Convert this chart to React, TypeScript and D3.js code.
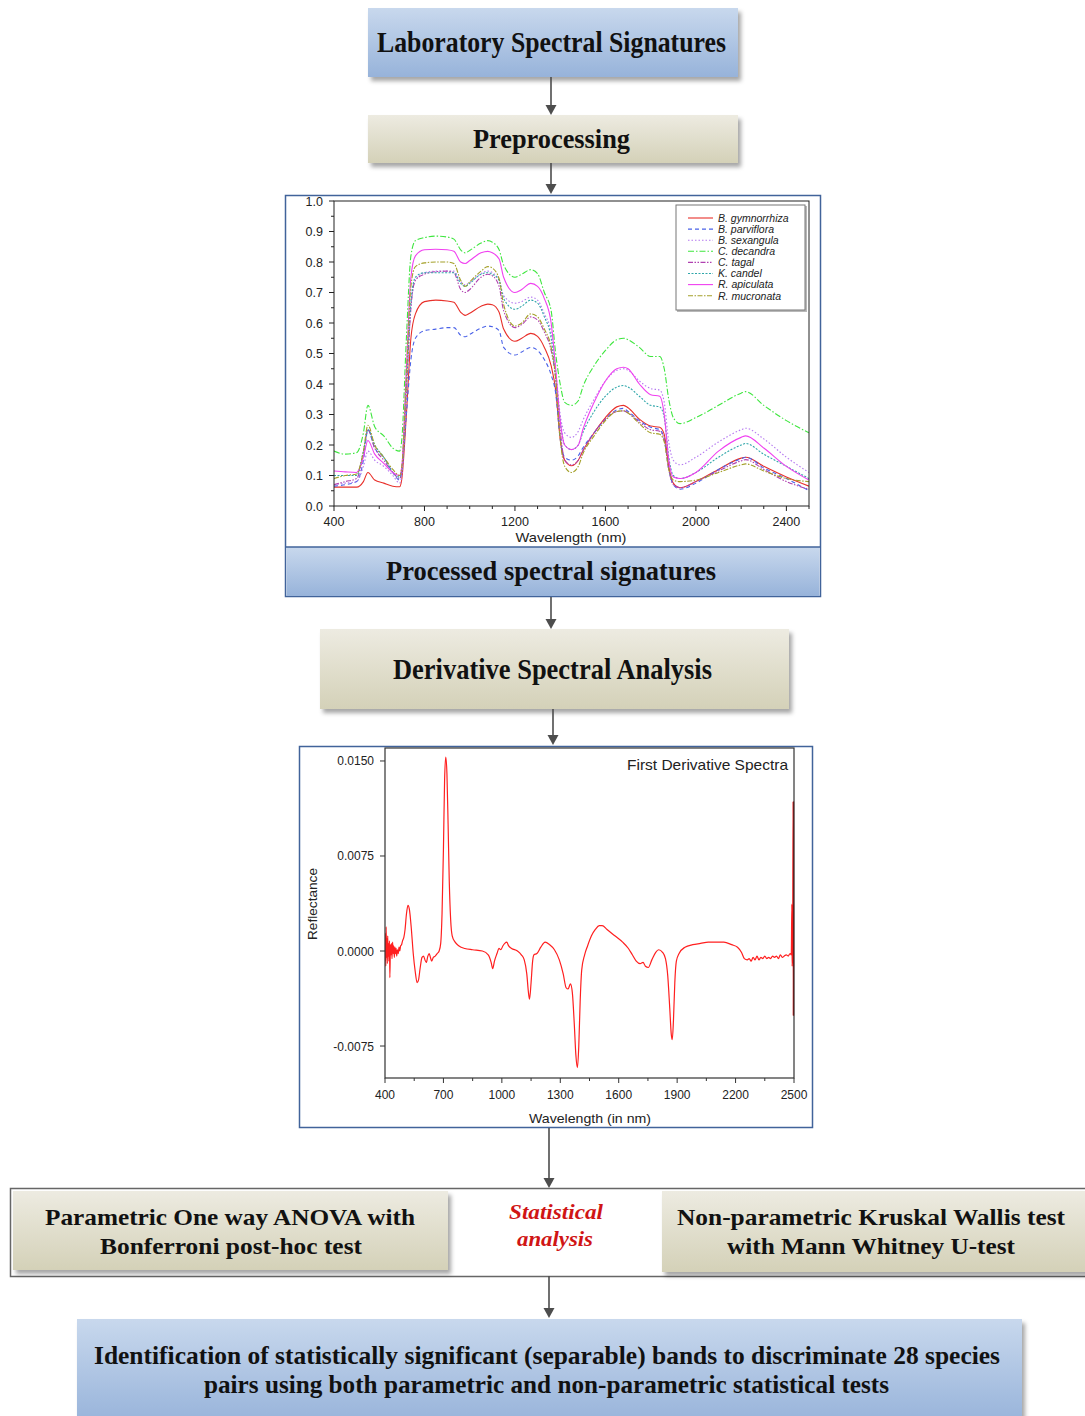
import React from "react";
import * as d3 from "d3";

// ---------- Processed spectral signatures (reflectance) ----------
const WAVELENGTHS = [400, 450, 500, 530, 550, 580, 620, 660, 690, 700, 720, 740, 760, 800, 850, 900, 930, 960, 980, 1000, 1050, 1080, 1100, 1130, 1150, 1200, 1230, 1270, 1300, 1330, 1360, 1380, 1400, 1420, 1450, 1480, 1500, 1550, 1600, 1650, 1680, 1700, 1750, 1800, 1840, 1860, 1880, 1900, 1930, 2000, 2100, 2200, 2220, 2300, 2400, 2500];

const SPECIES = ["B. gymnorrhiza", "B. parviflora", "B. sexangula", "C. decandra", "C. tagal", "K. candel", "R. apiculata", "R. mucronata"];

const GYMNORRHIZA = [0.062, 0.062, 0.062, 0.08, 0.11, 0.085, 0.075, 0.065, 0.063, 0.09, 0.30, 0.55, 0.63, 0.67, 0.675, 0.672, 0.668, 0.635, 0.625, 0.632, 0.655, 0.662, 0.66, 0.635, 0.58, 0.54, 0.55, 0.566, 0.556, 0.52, 0.46, 0.38, 0.22, 0.15, 0.132, 0.15, 0.18, 0.24, 0.29, 0.325, 0.33, 0.322, 0.285, 0.262, 0.258, 0.235, 0.13, 0.075, 0.06, 0.08, 0.12, 0.157, 0.16, 0.13, 0.095, 0.065];
const PARVIFLORA = [0.065, 0.07, 0.08, 0.15, 0.25, 0.19, 0.16, 0.11, 0.085, 0.12, 0.30, 0.48, 0.55, 0.575, 0.58, 0.585, 0.585, 0.56, 0.555, 0.563, 0.583, 0.59, 0.588, 0.575, 0.52, 0.495, 0.505, 0.52, 0.51, 0.48, 0.43, 0.37, 0.22, 0.16, 0.15, 0.165, 0.19, 0.24, 0.285, 0.315, 0.32, 0.31, 0.28, 0.258, 0.25, 0.22, 0.12, 0.07, 0.055, 0.075, 0.12, 0.155, 0.16, 0.125, 0.09, 0.05];
const SEXANGULA = [0.07, 0.075, 0.08, 0.13, 0.18, 0.15, 0.13, 0.10, 0.075, 0.10, 0.35, 0.65, 0.74, 0.765, 0.77, 0.77, 0.77, 0.735, 0.725, 0.733, 0.762, 0.77, 0.765, 0.74, 0.69, 0.665, 0.67, 0.685, 0.675, 0.63, 0.57, 0.45, 0.30, 0.24, 0.225, 0.245, 0.28, 0.35, 0.41, 0.445, 0.45, 0.445, 0.41, 0.385, 0.38, 0.34, 0.21, 0.15, 0.135, 0.16, 0.21, 0.25, 0.255, 0.22, 0.16, 0.11];
const DECANDRA = [0.18, 0.17, 0.175, 0.24, 0.33, 0.26, 0.23, 0.19, 0.18, 0.22, 0.55, 0.82, 0.87, 0.88, 0.885, 0.882, 0.875, 0.84, 0.83, 0.838, 0.862, 0.87, 0.865, 0.84, 0.79, 0.75, 0.76, 0.775, 0.762, 0.70, 0.64, 0.50, 0.40, 0.34, 0.33, 0.345, 0.39, 0.46, 0.51, 0.545, 0.55, 0.545, 0.52, 0.49, 0.49, 0.45, 0.35, 0.29, 0.27, 0.29, 0.33, 0.37, 0.375, 0.33, 0.28, 0.24];
const TAGAL = [0.07, 0.08, 0.09, 0.17, 0.25, 0.19, 0.15, 0.11, 0.09, 0.12, 0.38, 0.65, 0.74, 0.76, 0.768, 0.77, 0.765, 0.71, 0.70, 0.71, 0.75, 0.76, 0.755, 0.72, 0.64, 0.585, 0.595, 0.62, 0.61, 0.57, 0.51, 0.42, 0.25, 0.15, 0.135, 0.15, 0.18, 0.24, 0.285, 0.31, 0.312, 0.305, 0.275, 0.25, 0.245, 0.22, 0.12, 0.07, 0.06, 0.08, 0.115, 0.148, 0.152, 0.12, 0.08, 0.055];
const CANDEL = [0.10, 0.10, 0.10, 0.18, 0.25, 0.20, 0.16, 0.11, 0.095, 0.12, 0.40, 0.67, 0.75, 0.765, 0.765, 0.765, 0.765, 0.73, 0.72, 0.73, 0.76, 0.765, 0.76, 0.74, 0.68, 0.645, 0.655, 0.675, 0.665, 0.62, 0.55, 0.42, 0.28, 0.20, 0.185, 0.20, 0.24, 0.31, 0.36, 0.39, 0.395, 0.39, 0.36, 0.33, 0.325, 0.29, 0.16, 0.10, 0.09, 0.11, 0.16, 0.20, 0.205, 0.17, 0.13, 0.09];
const APICULATA = [0.115, 0.112, 0.11, 0.16, 0.215, 0.17, 0.14, 0.11, 0.10, 0.13, 0.45, 0.75, 0.82, 0.84, 0.842, 0.84, 0.835, 0.80, 0.795, 0.805, 0.83, 0.835, 0.83, 0.81, 0.75, 0.70, 0.71, 0.73, 0.72, 0.68, 0.60, 0.45, 0.28, 0.20, 0.185, 0.20, 0.25, 0.34, 0.41, 0.45, 0.455, 0.45, 0.40, 0.365, 0.36, 0.30, 0.15, 0.095, 0.09, 0.11, 0.18, 0.225, 0.23, 0.19, 0.13, 0.085];
const MUCRONATA = [0.09, 0.10, 0.105, 0.18, 0.265, 0.20, 0.16, 0.12, 0.10, 0.13, 0.42, 0.72, 0.785, 0.797, 0.80, 0.80, 0.795, 0.74, 0.72, 0.735, 0.77, 0.785, 0.78, 0.745, 0.66, 0.59, 0.60, 0.63, 0.62, 0.58, 0.52, 0.42, 0.22, 0.13, 0.11, 0.13, 0.17, 0.23, 0.28, 0.31, 0.312, 0.305, 0.27, 0.24, 0.235, 0.21, 0.12, 0.085, 0.08, 0.085, 0.11, 0.135, 0.138, 0.115, 0.09, 0.08];

const SPEC_X_TICKS = [400, 800, 1200, 1600, 2000, 2400];
const SPEC_Y_TICKS = [0, 0.1, 0.2, 0.3, 0.4, 0.5, 0.6, 0.7, 0.8, 0.9, 1.0];

// ---------- First derivative spectrum ----------
const DERIV_WL = [400, 402, 404, 406, 408, 410, 412, 414, 416, 418, 420, 423, 425, 428, 430, 433, 436, 439, 442, 445, 448, 451, 454, 457, 460, 464, 468, 472, 476, 480, 485, 490, 497, 503, 510, 518, 525, 535, 545, 555, 565, 572, 580, 590, 598, 605, 612, 620, 627, 633, 640, 648, 658, 668, 678, 686, 693, 700, 706, 712, 718, 724, 730, 737, 745, 760, 780, 810, 850, 900, 930, 945, 953, 962, 975, 985, 995, 1005, 1015, 1025, 1035, 1050, 1080, 1100, 1115, 1128, 1136, 1142, 1150, 1158, 1165, 1180, 1200, 1222, 1245, 1270, 1295, 1315, 1330, 1340, 1352, 1362, 1372, 1380, 1388, 1395, 1402, 1410, 1425, 1440, 1460, 1480, 1500, 1515, 1540, 1580, 1620, 1650, 1670, 1690, 1710, 1725, 1737, 1752, 1770, 1790, 1805, 1825, 1840, 1852, 1862, 1870, 1875, 1881, 1888, 1896, 1910, 1940, 1980, 2020, 2060, 2100, 2140, 2180, 2210, 2230, 2245, 2260, 2270, 2280, 2290, 2300, 2310, 2320, 2330, 2340, 2350, 2360, 2370, 2380, 2390, 2400, 2410, 2420, 2430, 2440, 2450, 2460, 2470, 2480, 2486, 2489, 2490, 2493, 2496, 2497, 2498, 2499, 2500];
const DERIV_VAL = [-0.0008, 0.0014, -0.0012, 0.0019, -0.0005, 0.0010, -0.0010, 0.0012, -0.0004, 0.0006, -0.0008, 0.0008, -0.0021, 0.0005, -0.0003, 0.0006, -0.0006, 0.0007, -0.0002, 0.0004, -0.0005, 0.0003, -0.0002, 0.0002, -0.0004, 0.0001, -0.0002, 0.0003, 0.0000, 0.0004, 0.0005, 0.0008, 0.0011, 0.0017, 0.0029, 0.0036, 0.0033, 0.0018, -0.0002, -0.0016, -0.0025, -0.0023, -0.0014, -0.0005, -0.0004, -0.0007, -0.0009, -0.0004, -0.0002, -0.0005, -0.0008, -0.0005, -0.0004, -0.0002, 0.0000, 0.0006, 0.0030, 0.0080, 0.0135, 0.0153, 0.0140, 0.0100, 0.0055, 0.0025, 0.0012, 0.0007, 0.0004, 0.0002, 0.0001, 0.0000, -0.0003, -0.0009, -0.0014, -0.0008, -0.0002, 0.0002, 0.0001, 0.0004, 0.0006, 0.0007, 0.0004, 0.0002, 0.0000, -0.0003, -0.0007, -0.0018, -0.0032, -0.0038, -0.0025, -0.0008, -0.0003, -0.0002, 0.0003, 0.0007, 0.0005, 0.0001, -0.0007, -0.0018, -0.0029, -0.0030, -0.0026, -0.0033, -0.0058, -0.0082, -0.0092, -0.0075, -0.0040, -0.0015, -0.0003, 0.0004, 0.0012, 0.0017, 0.0020, 0.0020, 0.0017, 0.0012, 0.0007, 0.0002, -0.0003, -0.0008, -0.0010, -0.0009, -0.0012, -0.0013, -0.0007, -0.0001, 0.0001, -0.0001, -0.0006, -0.0020, -0.0045, -0.0066, -0.0070, -0.0055, -0.0025, -0.0008, -0.0002, 0.0003, 0.0005, 0.0006, 0.0007, 0.0007, 0.0007, 0.0005, 0.0003, -0.0001, -0.0006, -0.0007, -0.0006, -0.0008, -0.0005, -0.0007, -0.0004, -0.0007, -0.0005, -0.0006, -0.0004, -0.0006, -0.0005, -0.0006, -0.0004, -0.0005, -0.0004, -0.0006, -0.0003, -0.0005, -0.0004, -0.0003, -0.0004, -0.0002, -0.0003, 0.0037, -0.0012, -0.0002, 0.0118, -0.0051, 0.0060, -0.0030, 0.0000];

const DERIV_X_TICKS = [400, 700, 1000, 1300, 1600, 1900, 2200, 2500];
const DERIV_Y_TICKS = [0.015, 0.0075, 0, -0.0075];

// ---------- styles (not data) ----------
const SERIES_STYLE = [
  { color: "#e8302a", dash: "" },
  { color: "#4a62e8", dash: "4,3" },
  { color: "#b478f0", dash: "1.5,2" },
  { color: "#3ee63e", dash: "6,2,1.5,2" },
  { color: "#b040b0", dash: "5,1.5,1.5,1.5,1.5,1.5" },
  { color: "#2fa6aa", dash: "2,1.5" },
  { color: "#f040f0", dash: "" },
  { color: "#a4a028", dash: "5,1.5,1.5,1.5" },
];

const SERIF = "'Liberation Serif', 'Times New Roman', serif";
const SANS = "'Liberation Sans', Arial, sans-serif";

function Arrow({ x, y1, y2 }: { x: number; y1: number; y2: number }) {
  return (
    <g>
      <line x1={x} y1={y1} x2={x} y2={y2 - 9} stroke="#4d4d4d" strokeWidth={1.6} />
      <polygon points={`${x - 5.5},${y2 - 10} ${x + 5.5},${y2 - 10} ${x},${y2}`} fill="#4d4d4d" />
    </g>
  );
}

function Label({ x, y, w, size, children, fill = "#111", italic = false }: any) {
  return (
    <text x={x} y={y} fontFamily={SERIF} fontWeight="bold" fontStyle={italic ? "italic" : "normal"} fontSize={size} fill={fill}
      textLength={w} lengthAdjust="spacingAndGlyphs">{children}</text>
  );
}

export default function App() {
  // spectral chart
  const sx = d3.scaleLinear().domain([400, 2500]).range([334, 809]);
  const sy = d3.scaleLinear().domain([0, 1]).range([506, 201]);
  const specLine = d3.line<[number, number]>().x(d => sx(d[0])).y(d => sy(d[1])).curve(d3.curveMonotoneX);
  const SPECTRA = [GYMNORRHIZA, PARVIFLORA, SEXANGULA, DECANDRA, TAGAL, CANDEL, APICULATA, MUCRONATA];
  const specXMinor = d3.range(400, 2501, 100);
  const specYMinor = d3.range(0, 1.001, 0.05);

  // derivative chart
  const dx = d3.scaleLinear().domain([400, 2500]).range([385, 794]);
  const dy = d3.scaleLinear().domain([-0.010, 0.016]).range([1077.7, 748.3]);
  const derivLine = d3.line<[number, number]>().x(d => dx(d[0])).y(d => dy(d[1])).curve(d3.curveMonotoneX);
  const derivPts: [number, number][] = DERIV_WL.map((w, i) => [w, DERIV_VAL[i]]);
  const derivMinor = d3.range(550, 2500, 300);
  const fmt4 = (v: number) => d3.format(".4f")(v).replace("\u2212", "-");

  return (
    <svg width={1085} height={1416} style={{ position: "absolute", left: 0, top: 0, background: "#fff" }}>
      <defs>
        <linearGradient id="blueG" x1="0" y1="0" x2="0" y2="1">
          <stop offset="0" stopColor="#c8d8ed" />
          <stop offset="1" stopColor="#97b3da" />
        </linearGradient>
        <linearGradient id="beigeG" x1="0" y1="0" x2="0" y2="1">
          <stop offset="0" stopColor="#edebe1" />
          <stop offset="1" stopColor="#d4d1b8" />
        </linearGradient>
        <filter id="shadow" x="-5%" y="-10%" width="115%" height="140%">
          <feDropShadow dx="3" dy="4" stdDeviation="2" floodColor="#000" floodOpacity="0.35" />
        </filter>
        <clipPath id="specClip"><rect x={334} y={201} width={475} height={305} /></clipPath>
        <clipPath id="derivClip"><rect x={385} y={748} width={409} height={330} /></clipPath>
      </defs>

      {/* Top boxes */}
      <rect x={368} y={8} width={370} height={69} fill="url(#blueG)" filter="url(#shadow)" />
      <Label x={377} y={52} w={349} size={30}>Laboratory Spectral Signatures</Label>
      <Arrow x={551} y1={77} y2={115} />
      <rect x={368} y={115} width={370} height={48} fill="url(#beigeG)" filter="url(#shadow)" />
      <Label x={473} y={148} w={157} size={27}>Preprocessing</Label>
      <Arrow x={551} y1={163} y2={194} />

      {/* Panel 1 */}
      <rect x={285.5} y={195.5} width={535} height={401} fill="#fff" stroke="#41639a" strokeWidth={1.5} />
      <rect x={286.5} y={547} width={533} height={49} fill="url(#blueG)" />
      <line x1={285.5} x2={820.5} y1={547} y2={547} stroke="#41639a" strokeWidth={1.5} />
      <Label x={386} y={580} w={330} size={27}>Processed spectral signatures</Label>

      {/* spectral chart */}
      <g clipPath="url(#specClip)">
        {SPECTRA.map((vals, i) => (
          <path key={SPECIES[i]} d={specLine(WAVELENGTHS.map((w, j) => [w, vals[j]] as [number, number])) || ""}
            fill="none" stroke={SERIES_STYLE[i].color} strokeWidth={1.1} strokeDasharray={SERIES_STYLE[i].dash} />
        ))}
      </g>
      <rect x={334} y={201} width={475} height={305} fill="none" stroke="#222" strokeWidth={1} />
      {specYMinor.map(v => (
        <line key={"sym" + v} x1={334} x2={Math.round(v * 100) % 10 === 0 ? 329 : 331} y1={sy(v)} y2={sy(v)} stroke="#222" strokeWidth={1} />
      ))}
      {specXMinor.map(v => (
        <line key={"sxm" + v} x1={sx(v)} x2={sx(v)} y1={506} y2={v % 400 === 0 ? 511 : 509} stroke="#222" strokeWidth={1} />
      ))}
      {SPEC_Y_TICKS.map(v => (
        <text key={"syt" + v} x={323} y={sy(v) + 4.5} textAnchor="end" fontFamily={SANS} fontSize={12.5} fill="#222">{v.toFixed(1)}</text>
      ))}
      {SPEC_X_TICKS.map(v => (
        <text key={"sxt" + v} x={sx(v)} y={526} textAnchor="middle" fontFamily={SANS} fontSize={12.5} fill="#222">{v}</text>
      ))}
      <text x={571} y={542} textAnchor="middle" fontFamily={SANS} fontSize={13} fill="#222" textLength={111} lengthAdjust="spacingAndGlyphs">Wavelength (nm)</text>

      {/* legend */}
      <rect x={677} y={206} width={130} height={106} fill="#888" opacity={0.6} />
      <rect x={676} y={205} width={129} height={105} fill="#fff" stroke="#777" strokeWidth={1} />
      {SPECIES.map((s, i) => (
        <g key={"lg" + s}>
          <line x1={688} x2={713} y1={218 + i * 11.1} y2={218 + i * 11.1} stroke={SERIES_STYLE[i].color} strokeWidth={1.1} strokeDasharray={SERIES_STYLE[i].dash} />
          <text x={718} y={221.8 + i * 11.1} fontFamily={SANS} fontStyle="italic" fontSize={10.5} fill="#222">{s}</text>
        </g>
      ))}

      <Arrow x={551} y1={597} y2={629} />

      {/* Derivative box */}
      <rect x={320} y={629} width={469} height={80} fill="url(#beigeG)" filter="url(#shadow)" />
      <Label x={393} y={679} w={319} size={29}>Derivative Spectral Analysis</Label>
      <Arrow x={553} y1={709} y2={745} />

      {/* Panel 2 */}
      <rect x={299.5} y={746.5} width={513} height={381} fill="#fff" stroke="#41639a" strokeWidth={1.5} />
      <g clipPath="url(#derivClip)">
        <path d={derivLine(derivPts) || ""} fill="none" stroke="#ff1f1f" strokeWidth={1.2} />
      </g>
      <line x1={793.5} x2={793.5} y1={dy(0.0118)} y2={dy(-0.0051)} stroke="#b00000" strokeWidth={1.3} />
      <rect x={385} y={748} width={409} height={330} fill="none" stroke="#333" strokeWidth={1.2} />
      {DERIV_Y_TICKS.map(v => (
        <g key={"dyt" + v}>
          <line x1={385} x2={380} y1={dy(v)} y2={dy(v)} stroke="#333" />
          <text x={374} y={dy(v) + 4.5} textAnchor="end" fontFamily={SANS} fontSize={12} fill="#222">{fmt4(v)}</text>
        </g>
      ))}
      {DERIV_X_TICKS.map(v => (
        <g key={"dxt" + v}>
          <line x1={dx(v)} x2={dx(v)} y1={1078} y2={1083} stroke="#333" />
          <text x={dx(v)} y={1098.5} textAnchor="middle" fontFamily={SANS} fontSize={12} fill="#222">{v}</text>
        </g>
      ))}
      {derivMinor.map(v => (
        <line key={"dxm" + v} x1={dx(v)} x2={dx(v)} y1={1078} y2={1081} stroke="#333" />
      ))}
      <text x={788} y={769.5} textAnchor="end" fontFamily={SANS} fontSize={15} fill="#222" textLength={161} lengthAdjust="spacingAndGlyphs">First Derivative Spectra</text>
      <text x={590} y={1122.5} textAnchor="middle" fontFamily={SANS} fontSize={13.5} fill="#222" textLength={122} lengthAdjust="spacingAndGlyphs">Wavelength (in nm)</text>
      <text transform="translate(317,904) rotate(-90)" textAnchor="middle" fontFamily={SANS} fontSize={13} fill="#222" textLength={72} lengthAdjust="spacingAndGlyphs">Reflectance</text>

      <Arrow x={549} y1={1128} y2={1188} />

      {/* Statistical analysis row */}
      <rect x={10.5} y={1188.5} width={1080} height={88} fill="#fff" stroke="#666" strokeWidth={1.5} />
      <rect x={13} y={1191} width={435} height={79} fill="url(#beigeG)" filter="url(#shadow)" />
      <rect x={662} y={1191} width={430} height={81} fill="url(#beigeG)" filter="url(#shadow)" />
      <Label x={45} y={1225} w={370} size={24}>Parametric One way ANOVA with</Label>
      <Label x={100} y={1254} w={262} size={24}>Bonferroni post-hoc test</Label>
      <Label x={677} y={1225} w={388} size={24}>Non-parametric Kruskal Wallis test</Label>
      <Label x={727} y={1254} w={288} size={24}>with Mann Whitney U-test</Label>
      <Label x={509} y={1219} w={94} size={22} fill="#d01515" italic>Statistical</Label>
      <Label x={517} y={1246} w={76} size={22} fill="#d01515" italic>analysis</Label>

      <Arrow x={549} y1={1276} y2={1318} />

      {/* Final box */}
      <rect x={77} y={1319} width={945} height={105} fill="url(#blueG)" filter="url(#shadow)" />
      <Label x={94} y={1364} w={906} size={25}>Identification of statistically significant (separable) bands to discriminate 28 species</Label>
      <Label x={204} y={1393} w={685} size={25}>pairs using both parametric and non-parametric statistical tests</Label>
    </svg>
  );
}
